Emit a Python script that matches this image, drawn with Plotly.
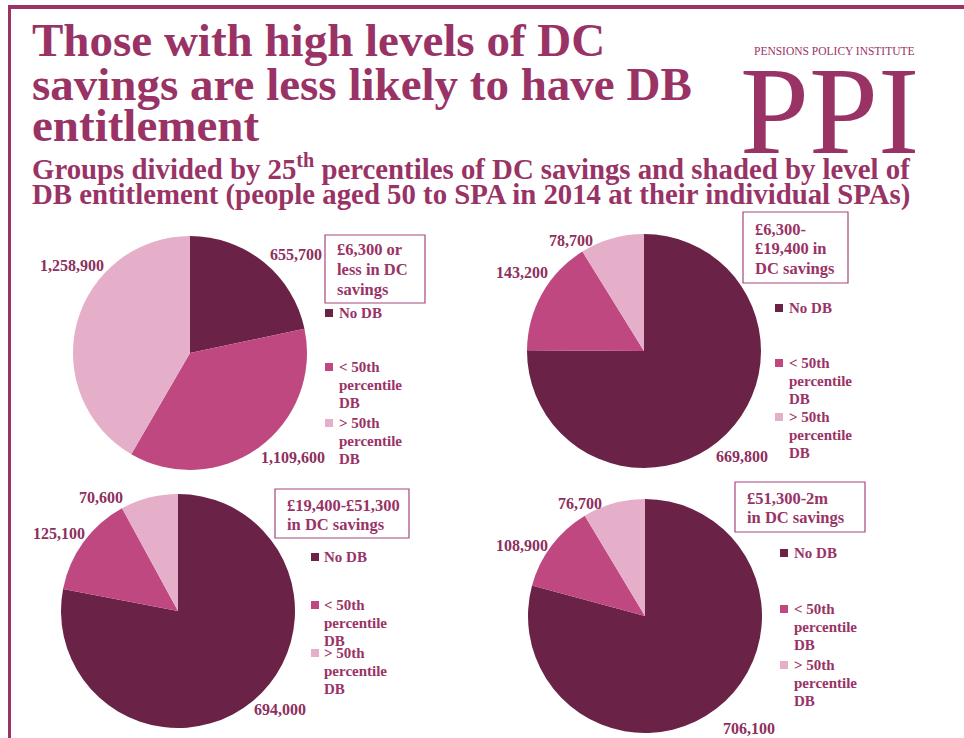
import plotly.graph_objects as go

W, H = 964, 738

# ---- data -------------------------------------------------------------
categories = ["No DB", "< 50th percentile DB", "> 50th percentile DB"]
legend_lines = [["No DB"], ["< 50th", "percentile", "DB"], ["> 50th", "percentile", "DB"]]
group_titles = [
    ["£6,300 or", "less in DC", "savings"],
    ["£6,300-", "£19,400 in", "DC savings"],
    ["£19,400-£51,300", "in DC savings"],
    ["£51,300-2m", "in DC savings"],
]
no_db = [655700, 669800, 694000, 706100]
below_50th = [1109600, 143200, 125100, 108900]
above_50th = [1258900, 78700, 70600, 76700]

# ---- styling ----------------------------------------------------------
slice_colors = ["#6b2247", "#c04881", "#e5aec9"]
accent = "#993366"
label_color = "#8e2f5e"
SERIF = "Liberation Serif"

# pixel layout for each panel
panels = [
    dict(center=(190, 353), r=117,
         labels=[(296, 254), (293, 457), (72, 265)],
         box=(325, 235, 425, 303), box_text=(335, 250),
         sq_x=325, txt_x=337, item_y=[313, 367, 423]),
    dict(center=(644, 351), r=117,
         labels=[(742, 456), (522, 273), (571, 240)],
         box=(743, 212, 848, 283), box_text=(753, 229),
         sq_x=775, txt_x=787, item_y=[308, 363, 417]),
    dict(center=(178, 611), r=117,
         labels=[(280, 709), (59, 533), (101, 497)],
         box=(275, 489, 409, 538), box_text=(285, 505),
         sq_x=311, txt_x=322, item_y=[557, 605, 653]),
    dict(center=(645, 616), r=117,
         labels=[(749, 728), (522, 545), (580, 503)],
         box=(735, 482, 865, 532), box_text=(745, 498),
         sq_x=780, txt_x=792, item_y=[553, 609, 665]),
]


def px(x, y):
    return x / W, 1 - y / H


fig = go.Figure()
annotations = []
shapes = []

for i, p in enumerate(panels):
    vals = [no_db[i], below_50th[i], above_50th[i]]
    cx, cy = p["center"]
    r = p["r"]
    x0, y1 = px(cx - r, cy - r)
    x1, y0 = px(cx + r, cy + r)
    fig.add_trace(go.Pie(
        labels=categories, values=vals, sort=False, direction="clockwise",
        rotation=0, textinfo="none", hoverinfo="label+value",
        marker=dict(colors=slice_colors, line=dict(width=0)),
        domain=dict(x=[x0, x1], y=[y0, y1]), showlegend=False,
    ))

    # value labels
    for v, (lx, ly) in zip(vals, p["labels"]):
        ax, ay = px(lx, ly)
        annotations.append(dict(
            x=ax, y=ay, xref="paper", yref="paper", showarrow=False,
            text=f"{v:,}", xanchor="center", yanchor="middle",
            font=dict(family=SERIF, size=16, color=label_color, weight="bold")))

    # group title box
    bx0, by0, bx1, by1 = p["box"]
    shapes.append(dict(type="rect", xref="paper", yref="paper",
                       x0=bx0 / W, x1=bx1 / W, y0=1 - by1 / H, y1=1 - by0 / H,
                       line=dict(color="#a8477a", width=1.2)))
    tx, ty = p["box_text"]
    for k, line in enumerate(group_titles[i]):
        ax, ay = px(tx, ty + k * 19.5)
        annotations.append(dict(
            x=ax, y=ay, xref="paper", yref="paper", showarrow=False,
            text=line, xanchor="left", yanchor="middle",
            font=dict(family=SERIF, size=16.5, color=accent, weight="bold")))

    # legend
    for c, (lines, iy) in enumerate(zip(legend_lines, p["item_y"])):
        shapes.append(dict(type="rect", xref="paper", yref="paper",
                           x0=p["sq_x"] / W, x1=(p["sq_x"] + 8) / W,
                           y0=1 - (iy + 4) / H, y1=1 - (iy - 4) / H,
                           line=dict(width=0), fillcolor=slice_colors[c]))
        for k, line in enumerate(lines):
            ax, ay = px(p["txt_x"], iy + k * 18)
            annotations.append(dict(
                x=ax, y=ay, xref="paper", yref="paper", showarrow=False,
                text=line, xanchor="left", yanchor="middle",
                font=dict(family=SERIF, size=15, color=accent, weight="bold")))

# ---- headline -----------------------------------------------------------
title_lines = [("Those with high levels of DC", 40),
               ("savings are less likely to have DB", 84),
               ("entitlement", 125)]
for text, y in title_lines:
    ax, ay = px(30, y)
    annotations.append(dict(
        x=ax, y=ay, xref="paper", yref="paper", showarrow=False, text=text,
        xanchor="left", yanchor="middle",
        font=dict(family=SERIF, size=47, color=accent, weight="bold")))

subtitle_lines = [("Groups divided by 25<sup>th</sup> percentiles of DC savings and shaded by level of", 167),
                  ("DB entitlement (people aged 50 to SPA in 2014 at their individual SPAs)", 195)]
for text, y in subtitle_lines:
    ax, ay = px(30, y)
    annotations.append(dict(
        x=ax, y=ay, xref="paper", yref="paper", showarrow=False, text=text,
        xanchor="left", yanchor="middle",
        font=dict(family=SERIF, size=28.8, color=accent, weight="bold")))

# ---- logo ---------------------------------------------------------------
ax, ay = px(834, 51)
annotations.append(dict(x=ax, y=ay, xref="paper", yref="paper", showarrow=False,
                        text="PENSIONS POLICY INSTITUTE", xanchor="center", yanchor="middle",
                        font=dict(family=SERIF, size=11.5, color=accent)))
ax, ay = px(829, 112)
annotations.append(dict(x=ax, y=ay, xref="paper", yref="paper", showarrow=False,
                        text="PPI", xanchor="center", yanchor="middle",
                        font=dict(family=SERIF, size=124, color=accent)))

# ---- frame --------------------------------------------------------------
shapes.append(dict(type="line", xref="paper", yref="paper",
                   x0=8 / W, x1=1, y0=1 - 7 / H, y1=1 - 7 / H,
                   line=dict(color="#9b3366", width=4)))
shapes.append(dict(type="line", xref="paper", yref="paper",
                   x0=9.5 / W, x1=9.5 / W, y0=0, y1=1 - 5 / H,
                   line=dict(color="#9b3366", width=3)))

fig.update_layout(
    width=W, height=H, margin=dict(l=0, r=0, t=0, b=0),
    paper_bgcolor="white", plot_bgcolor="white",
    annotations=annotations, shapes=shapes, showlegend=False,
)

fig.write_html("out.html")
